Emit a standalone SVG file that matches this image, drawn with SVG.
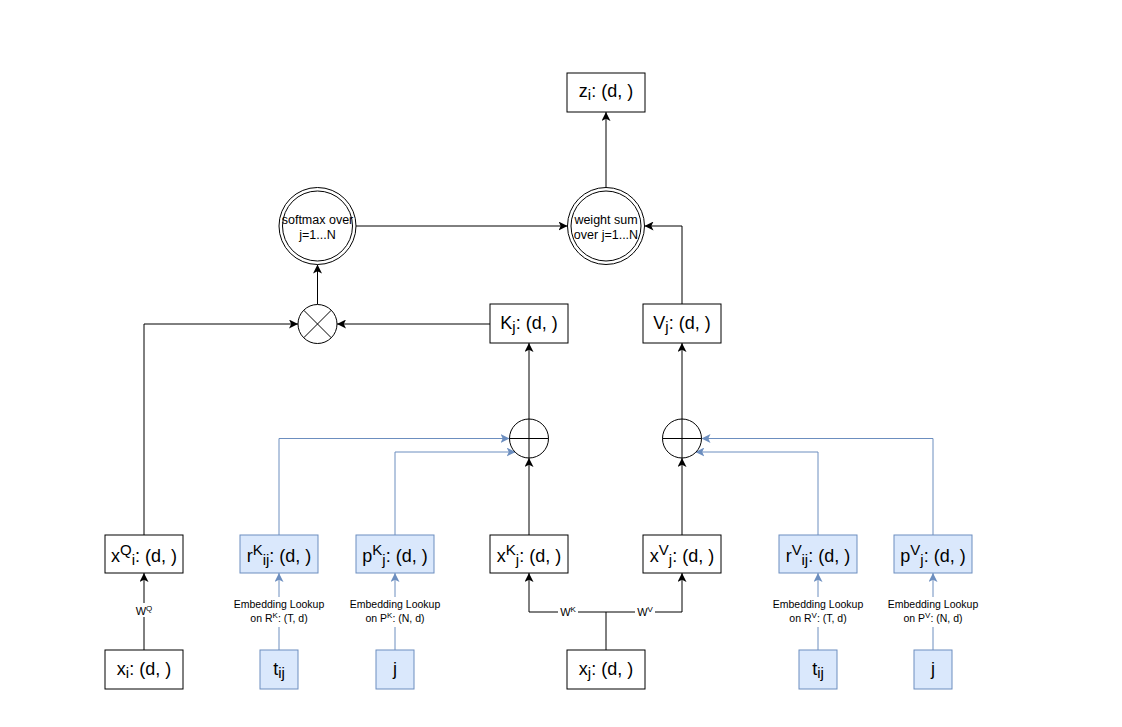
<svg xmlns="http://www.w3.org/2000/svg" width="1122" height="727" viewBox="0 0 1122 727">
<defs>
<marker id="ab" markerUnits="userSpaceOnUse" markerWidth="10" markerHeight="9" refX="9" refY="4.5" orient="auto"><path d="M0,0 L9,4.5 L0,9 L2.2,4.5 z" fill="#000"/></marker>
<marker id="au" markerUnits="userSpaceOnUse" markerWidth="10" markerHeight="9" refX="9" refY="4.5" orient="auto"><path d="M0,0 L9,4.5 L0,9 L2.2,4.5 z" fill="#6c8ebf"/></marker>
</defs>
<style>
text{font-family:"Liberation Sans",Arial,Helvetica,sans-serif;fill:#000}
.bx{fill:#fff;stroke:#000;stroke-width:1}
.bl{fill:#dae8fc;stroke:#6c8ebf;stroke-width:1}
.c{fill:#fff;stroke:#000;stroke-width:1}
.m{font-size:18px}
.s{font-size:15px}
.sm{font-size:12.5px}
.e{font-size:10.5px}
.es{font-size:8px}
.w{font-size:11px}
.ln{fill:none;stroke:#000;stroke-width:1}
.lb{fill:none;stroke:#6c8ebf;stroke-width:1}
.lbg{fill:#fff;stroke:none}
</style>
<rect width="1122" height="727" fill="#fff"/>

<g id="connectors">
<path class="ln" d="M606,187.5 V112" marker-end="url(#ab)"/>
<path class="ln" d="M356,226 H567.5" marker-end="url(#ab)"/>
<path class="ln" d="M682,304 V226 H644.5" marker-end="url(#ab)"/>
<path class="ln" d="M317.5,304.5 V264.5" marker-end="url(#ab)"/>
<path class="ln" d="M490,324 H337" marker-end="url(#ab)"/>
<path class="ln" d="M144,535 V324 H298" marker-end="url(#ab)"/>
<path class="ln" d="M529,419 V343" marker-end="url(#ab)"/>
<path class="ln" d="M529,535 V458" marker-end="url(#ab)"/>
<path class="ln" d="M682,419 V343" marker-end="url(#ab)"/>
<path class="ln" d="M682,535 V458" marker-end="url(#ab)"/>
<path class="ln" d="M606,650 V612"/>
<path class="ln" d="M606,612 H529 V573" marker-end="url(#ab)"/>
<path class="ln" d="M606,612 H682 V573" marker-end="url(#ab)"/>
<path class="ln" d="M144,650 V573" marker-end="url(#ab)"/>
<path class="lb" d="M279,535 V438.5 H509.5" marker-end="url(#au)"/>
<path class="lb" d="M395,535 V452 H515.6" marker-end="url(#au)"/>
<path class="lb" d="M818,535 V452 H695.4" marker-end="url(#au)"/>
<path class="lb" d="M933,535 V438.5 H701.5" marker-end="url(#au)"/>
<path class="lb" d="M279,650 V573" marker-end="url(#au)"/>
<path class="lb" d="M395,650 V573" marker-end="url(#au)"/>
<path class="lb" d="M818,650 V573" marker-end="url(#au)"/>
<path class="lb" d="M933,650 V573" marker-end="url(#au)"/>
<rect class="lbg" x="135" y="603" width="19" height="14"/>
<text class="w" x="144" y="615" text-anchor="middle">W<tspan class="es" dy="-4">Q</tspan></text>
<rect class="lbg" x="558" y="605" width="20" height="14"/>
<text class="w" x="568" y="616" text-anchor="middle">W<tspan class="es" dy="-4">K</tspan></text>
<rect class="lbg" x="635" y="605" width="20" height="14"/>
<text class="w" x="645" y="616" text-anchor="middle">W<tspan class="es" dy="-4">V</tspan></text>
<rect class="lbg" x="233" y="597" width="92" height="30"/>
<text class="e" x="279" y="608" text-anchor="middle">Embedding Lookup</text>
<text class="e" x="279" y="622" text-anchor="middle">on R<tspan class="es" dy="-4">K</tspan><tspan dy="4">: (T, d)</tspan></text>
<rect class="lbg" x="349" y="597" width="92" height="30"/>
<text class="e" x="395" y="608" text-anchor="middle">Embedding Lookup</text>
<text class="e" x="395" y="622" text-anchor="middle">on P<tspan class="es" dy="-4">K</tspan><tspan dy="4">: (N, d)</tspan></text>
<rect class="lbg" x="772" y="597" width="92" height="30"/>
<text class="e" x="818" y="608" text-anchor="middle">Embedding Lookup</text>
<text class="e" x="818" y="622" text-anchor="middle">on R<tspan class="es" dy="-4">V</tspan><tspan dy="4">: (T, d)</tspan></text>
<rect class="lbg" x="887" y="597" width="92" height="30"/>
<text class="e" x="933" y="608" text-anchor="middle">Embedding Lookup</text>
<text class="e" x="933" y="622" text-anchor="middle">on P<tspan class="es" dy="-4">V</tspan><tspan dy="4">: (N, d)</tspan></text>
</g>

<g id="z">
<rect class="bx" x="567" y="73" width="78" height="39"/>
<text class="m" x="606" y="97" text-anchor="middle">z<tspan class="s" dy="3">i</tspan><tspan dy="-3">: (d, )</tspan></text>
</g>

<g id="weightsum">
<circle class="c" cx="606" cy="226" r="38.5"/>
<circle class="c" cx="606" cy="226" r="35"/>
<text class="sm" x="606" y="224" text-anchor="middle">weight sum</text>
<text class="sm" x="606" y="239" text-anchor="middle">over j=1...N</text>
</g>

<g id="softmax">
<circle class="c" cx="317.5" cy="226" r="38.5"/>
<circle class="c" cx="317.5" cy="226" r="35"/>
<text class="sm" x="317.5" y="224" text-anchor="middle">softmax over</text>
<text class="sm" x="317.5" y="239" text-anchor="middle">j=1...N</text>
</g>

<g id="multiply">
<circle class="c" cx="317.5" cy="324" r="19.5"/>
<path class="ln" d="M303.7,310.2 L331.3,337.8 M331.3,310.2 L303.7,337.8"/>
</g>

<g id="K">
<rect class="bx" x="490" y="304" width="78" height="39"/>
<text class="m" x="529" y="329" text-anchor="middle">K<tspan class="s" dy="3">j</tspan><tspan dy="-3">: (d, )</tspan></text>
</g>

<g id="V">
<rect class="bx" x="643" y="304" width="78" height="39"/>
<text class="m" x="682" y="329" text-anchor="middle">V<tspan class="s" dy="3">j</tspan><tspan dy="-3">: (d, )</tspan></text>
</g>

<g id="plusK">
<circle class="c" cx="529" cy="438.5" r="19.5"/>
<path class="ln" d="M509.5,438.5 H548.5 M529,419 V458"/>
</g>

<g id="plusV">
<circle class="c" cx="682" cy="438.5" r="19.5"/>
<path class="ln" d="M662.5,438.5 H701.5 M682,419 V458"/>
</g>

<g id="xQ">
<rect class="bx" x="105" y="535" width="78" height="38"/>
<text class="m" x="144" y="562" text-anchor="middle">x<tspan class="s" dy="-7">Q</tspan><tspan class="s" dy="10">i</tspan><tspan dy="-3">: (d, )</tspan></text>
</g>

<g id="rK">
<rect class="bl" x="240" y="535" width="78" height="38"/>
<text class="m" x="279" y="562" text-anchor="middle">r<tspan class="s" dy="-7">K</tspan><tspan class="s" dy="10">ij</tspan><tspan dy="-3">: (d, )</tspan></text>
</g>

<g id="pK">
<rect class="bl" x="356" y="535" width="78" height="38"/>
<text class="m" x="395" y="562" text-anchor="middle">p<tspan class="s" dy="-7">K</tspan><tspan class="s" dy="10">j</tspan><tspan dy="-3">: (d, )</tspan></text>
</g>

<g id="xK">
<rect class="bx" x="490" y="535" width="78" height="38"/>
<text class="m" x="529" y="562" text-anchor="middle">x<tspan class="s" dy="-7">K</tspan><tspan class="s" dy="10">j</tspan><tspan dy="-3">: (d, )</tspan></text>
</g>

<g id="xV">
<rect class="bx" x="643" y="535" width="78" height="38"/>
<text class="m" x="682" y="562" text-anchor="middle">x<tspan class="s" dy="-7">V</tspan><tspan class="s" dy="10">j</tspan><tspan dy="-3">: (d, )</tspan></text>
</g>

<g id="rV">
<rect class="bl" x="779" y="535" width="78" height="38"/>
<text class="m" x="818" y="562" text-anchor="middle">r<tspan class="s" dy="-7">V</tspan><tspan class="s" dy="10">ij</tspan><tspan dy="-3">: (d, )</tspan></text>
</g>

<g id="pV">
<rect class="bl" x="894" y="535" width="78" height="38"/>
<text class="m" x="933" y="562" text-anchor="middle">p<tspan class="s" dy="-7">V</tspan><tspan class="s" dy="10">j</tspan><tspan dy="-3">: (d, )</tspan></text>
</g>

<g id="xi">
<rect class="bx" x="105" y="650" width="78" height="39"/>
<text class="m" x="144" y="675" text-anchor="middle">x<tspan class="s" dy="3">i</tspan><tspan dy="-3">: (d, )</tspan></text>
</g>

<g id="tK">
<rect class="bl" x="260" y="650" width="38" height="39"/>
<text class="m" x="279" y="675" text-anchor="middle">t<tspan class="s" dy="3">ij</tspan></text>
</g>

<g id="jK">
<rect class="bl" x="376" y="650" width="38" height="39"/>
<text class="m" x="395" y="675" text-anchor="middle">j</text>
</g>

<g id="xj">
<rect class="bx" x="567" y="650" width="78" height="39"/>
<text class="m" x="606" y="675" text-anchor="middle">x<tspan class="s" dy="3">j</tspan><tspan dy="-3">: (d, )</tspan></text>
</g>

<g id="tV">
<rect class="bl" x="799" y="650" width="38" height="39"/>
<text class="m" x="818" y="675" text-anchor="middle">t<tspan class="s" dy="3">ij</tspan></text>
</g>

<g id="jV">
<rect class="bl" x="914" y="650" width="38" height="39"/>
<text class="m" x="933" y="675" text-anchor="middle">j</text>
</g>
</svg>
